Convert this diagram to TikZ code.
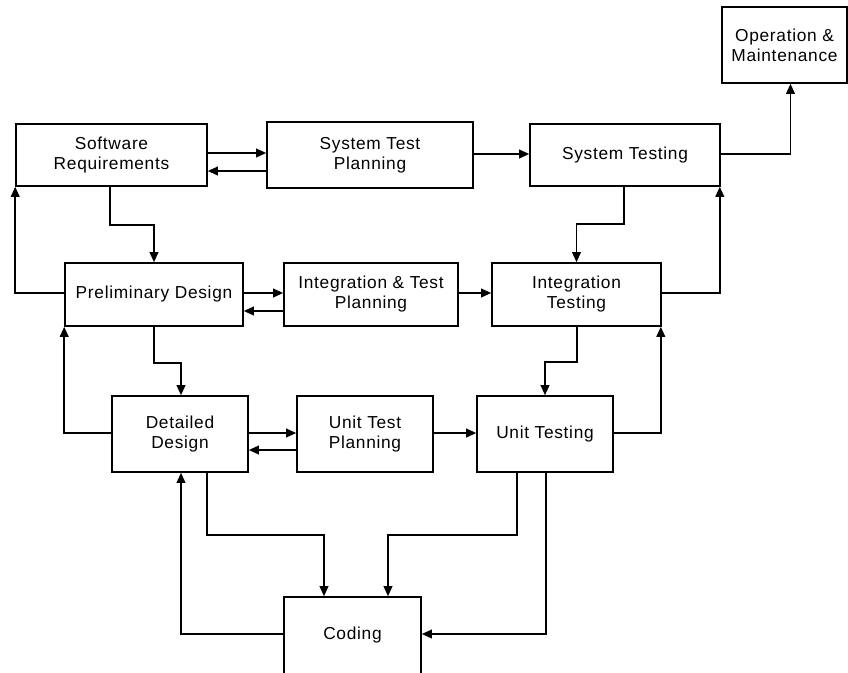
\documentclass[tikz,border=0pt]{standalone}
\usepackage{fontspec}
\setmainfont{Liberation Sans}[LetterSpace=4]
\usetikzlibrary{arrows.meta,calc}
\begin{document}
\begin{tikzpicture}[x=0.75pt,y=-0.75pt,
  box/.style={draw, line width=1.2pt, inner sep=0pt, align=center,
    font=\fontsize{13}{15}\selectfont},
  sz/.style 2 args={minimum width=#1*0.75pt, minimum height=#2*0.75pt},
  link/.style={line width=1.2pt, -{Triangle[length=7.5pt,width=6.5pt]}}]
\useasboundingbox (0,0) rectangle (848,672);
\clip (0,0) rectangle (848,672);
\fill[white] (0,0) rectangle (848,672);
% boxes
\node[box, sz={191}{62}] (sr)  at (111.5,155) {Software\\Requirements};
\node[box, sz={206}{66}] (stp) at (370,155) {System Test\\Planning};
\node[box, sz={190}{62}] (st)  at (625,155) {System Testing};
\node[box, sz={125}{76}] (om)  at (784.5,45) {Operation \&\\Maintenance};
\node[box, sz={178}{63}] (pd)  at (154,294.5) {Preliminary Design};
\node[box, sz={174}{63}] (itp) at (371,294.5) {Integration \& Test\\Planning};
\node[box, sz={169}{63}] (it)  at (576.5,294.5) {Integration\\Testing};
\node[box, sz={136}{76}] (dd)  at (180,434) {Detailed\\Design};
\node[box, sz={136}{76}] (utp) at (365,434) {Unit Test\\Planning};
\node[box, sz={136}{76}] (ut)  at (545,434) {Unit Testing};
\node[box, sz={137}{77}] (cod) at (352.5,635.5) {Coding};
% top row
\draw[link] ($(sr.east)+(0,-2)$) -- ($(stp.west)+(0,-2)$);
\draw[link] ($(stp.west)+(0,16)$) -- ($(sr.east)+(0,16)$);
\draw[link] ($(stp.east)+(0,-1)$) -- ($(st.west)+(0,-1)$);
\draw[link] ($(st.east)+(0,-1)$) -| ($(om.south)+(6,0)$);
% top to middle
\draw[link] ($(sr.south)+(-1.5,0)$) -- ++(0,38) -| (pd.north);
\draw[link] ($(pd.west)+(0,-1.5)$) -| (sr.south west);
\draw[link] ($(st.south)+(-1,0)$) -- ++(0,37) -| (it.north);
\draw[link] ($(it.east)+(0,-1.5)$) -| ($(st.south east)+(-1,0)$);
% middle row
\draw[link] ($(pd.east)+(0,-1.5)$) -- ($(itp.west)+(0,-1.5)$);
\draw[link] ($(itp.west)+(0,16.5)$) -- ($(pd.east)+(0,16.5)$);
\draw[link] ($(itp.east)+(0,-1.5)$) -- ($(it.west)+(0,-1.5)$);
% middle to bottom
\draw[link] (pd.south) -- ++(0,36) -| ($(dd.north)+(1,0)$);
\draw[link] ($(dd.west)+(0,-1)$) -| (pd.south west);
\draw[link] ($(it.south)+(0.5,0)$) -- ++(0,35) -| (ut.north);
\draw[link] ($(ut.east)+(0,-1)$) -| ($(it.south east)+(-1,0)$);
% bottom row
\draw[link] ($(dd.east)+(0,-1)$) -- ($(utp.west)+(0,-1)$);
\draw[link] ($(utp.west)+(0,16)$) -- ($(dd.east)+(0,16)$);
\draw[link] ($(utp.east)+(0,-1)$) -- ($(ut.west)+(0,-1)$);
% coding
\draw[link] ($(dd.south)+(27,0)$) -- ++(0,62) -| ($(cod.north)+(-28.5,0)$);
\draw[link] ($(cod.west)+(0,-1.5)$) -| ($(dd.south)+(1,0)$);
\draw[link] ($(ut.south)+(-28,0)$) -- ++(0,62) -| ($(cod.north)+(35.5,0)$);
\draw[link] ($(ut.south)+(1,0)$) |- ($(cod.east)+(0,-1.5)$);
\end{tikzpicture}
\end{document}
